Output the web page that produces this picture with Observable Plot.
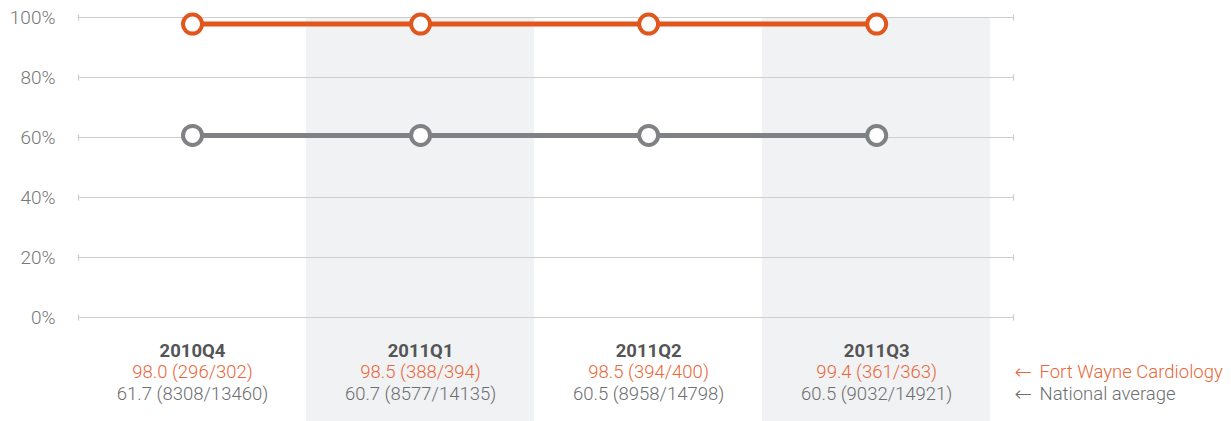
<!DOCTYPE html>
<html><head><meta charset="utf-8">
<script src="https://cdn.jsdelivr.net/npm/d3@7"></script>
<script src="https://cdn.jsdelivr.net/npm/@observablehq/plot@0.6"></script>
<style>body{margin:0;background:#fff} svg{display:block}</style>
</head><body><div id="chart"></div>
<script>
const quarters = ["2010Q4","2011Q1","2011Q2","2011Q3"];
const practiceName = "Fort Wayne Cardiology";
const nationalName = "National average";
// plotted positions
const practicePlotted = [97.8, 97.8, 97.8, 97.8];
const nationalPlotted = [60.7, 60.7, 60.7, 60.7];
// labels
const practiceRate = ["98.0","98.5","98.5","99.4"];
const practiceNum = [296, 388, 394, 361];
const practiceDen = [302, 394, 400, 363];
const nationalRate = ["61.7","60.7","60.5","60.5"];
const nationalNum = [8308, 8577, 8958, 9032];
const nationalDen = [13460, 14135, 14798, 14921];
const yTicks = [0, 20, 40, 60, 80, 100];

const orange = "#e0561d", orangeText = "#e8673a";
const grey = "#808184", greyText = "#6d6e70";

const rows = quarters.map((q, i) => ({
  q, x: i + 0.5,
  p: practicePlotted[i], n: nationalPlotted[i],
  pl: `${practiceRate[i]} (${practiceNum[i]}/${practiceDen[i]})`,
  nl: `${nationalRate[i]} (${nationalNum[i]}/${nationalDen[i]})`,
  shade: i % 2 === 1
}));

const vline = {draw(ctx, size) { const r = Math.sqrt(size / Math.PI); ctx.moveTo(0, -r); ctx.lineTo(0, r); }};

function legendItem(name, fill, dy) {
  return [
    Plot.text([name], {y: () => 0, frameAnchor: "right", text: () => "←", textAnchor: "start", dx: 1, dy, fontSize: 21, fill, fontFamily: "'DejaVu Sans', sans-serif", fontWeight: 300}),
    Plot.text([name], {y: () => 0, frameAnchor: "right", text: d => d, textAnchor: "start", dx: 26, dy, fontSize: 18.5, fill})
  ];
}

const chart = Plot.plot({
  width: 1231, height: 421,
  marginLeft: 78, marginRight: 218, marginTop: 17, marginBottom: 104,
  style: {fontFamily: "Roboto, 'Liberation Sans', sans-serif", fontWeight: 300, background: "#fff"},
  x: {domain: [0, 4.1], axis: null},
  y: {domain: [0, 100], axis: null},
  marks: [
    Plot.rectY(rows.filter(d => d.shade), {x1: d => d.x - 0.5, x2: d => d.x + 0.5, y1: () => 0, y2: () => 100, insetBottom: -104, fill: "#f1f2f4"}),
    Plot.ruleY(yTicks, {stroke: "#cdcdcd", strokeWidth: 1.2}),
    Plot.dot(yTicks, {y: d => d, frameAnchor: "left", symbol: vline, r: 3, stroke: "#cdcdcd", strokeWidth: 1.2}),
    Plot.dot(yTicks, {y: d => d, frameAnchor: "right", symbol: vline, r: 3, stroke: "#cdcdcd", strokeWidth: 1.2}),
    Plot.axisY(yTicks, {tickSize: 0, tickPadding: 23, tickFormat: d => d + "%", fontSize: 19, color: "#777", label: null}),
    Plot.lineY(rows, {x: "x", y: "n", stroke: grey, strokeWidth: 5}),
    Plot.lineY(rows, {x: "x", y: "p", stroke: orange, strokeWidth: 5}),
    Plot.dot(rows, {x: "x", y: "n", r: 9.5, fill: "white", stroke: grey, strokeWidth: 4}),
    Plot.dot(rows, {x: "x", y: "p", r: 9.5, fill: "white", stroke: orange, strokeWidth: 4}),
    Plot.text(rows, {x: "x", y: () => 0, text: "q", dy: 34, fontSize: 18.5, fontWeight: 700, fill: "#555"}),
    Plot.text(rows, {x: "x", y: () => 0, text: "pl", dy: 55, fontSize: 18.5, fill: orangeText}),
    Plot.text(rows, {x: "x", y: () => 0, text: "nl", dy: 77, fontSize: 18.5, fill: greyText}),
    ...legendItem(practiceName, orangeText, 55),
    ...legendItem(nationalName, greyText, 77)
  ]
});
document.getElementById("chart").append(chart);
</script>
</body></html>
